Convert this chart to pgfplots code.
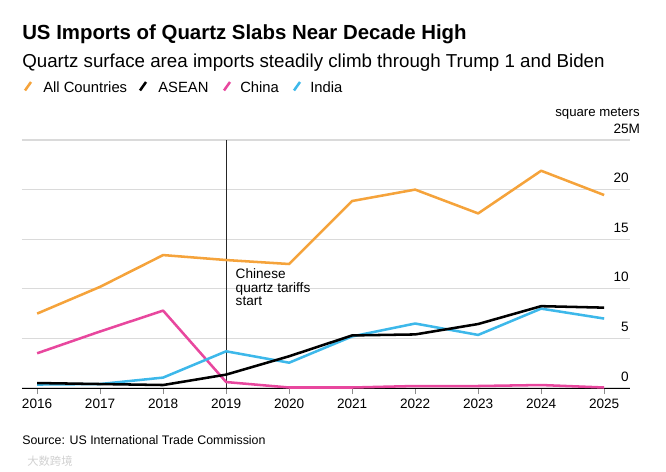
\documentclass[border=0pt]{standalone}
\usepackage{pgfplots}
\pgfplotsset{compat=1.18}
\usepackage{fontspec}
\setmainfont{Liberation Sans}
\newfontfamily\cjk{Noto Sans CJK SC}
\definecolor{corange}{HTML}{F5A33B}
\definecolor{cpink}{HTML}{E8479E}
\definecolor{ccyan}{HTML}{3DB8EA}
\definecolor{cgrid}{HTML}{DADADA}
\begin{document}
\begin{tikzpicture}[x=0.75pt,y=0.75pt]
\path[use as bounding box] (0,0) rectangle (666,471);
% titles
\node[anchor=base west, inner sep=0, font=\bfseries\fontsize{15.3}{18}\selectfont] at (22,431) {US Imports of Quartz Slabs Near Decade High};
\node[anchor=base west, inner sep=0, font=\fontsize{14.05}{17}\selectfont] at (22,403.5) {Quartz surface area imports steadily climb through Trump 1 and Biden};
% legend
\begin{scope}[line width=1.9pt, line cap=butt]
\draw[corange] (25,380.5) -- (31,389);
\draw[black] (140,380.5) -- (146,389);
\draw[cpink] (224,380.5) -- (230,389);
\draw[ccyan] (294,380.5) -- (300,389);
\end{scope}
\begin{scope}[every node/.style={anchor=base west, inner sep=0, font=\fontsize{11.1}{13}\selectfont}]
\node at (43,378.5) {All Countries};
\node at (158,378.5) {ASEAN};
\node at (240,378.5) {China};
\node at (310,378.5) {India};
\end{scope}
\node[anchor=base east, inner sep=0, font=\fontsize{9.9}{12}\selectfont] at (640,354.5) {square meters};
% source
\node[anchor=base west, inner sep=0, font=\fontsize{9.3}{11}\selectfont] at (22,26.5) {Source: US International Trade Commission};
\node[anchor=west, inner sep=0, text=black!18, font=\cjk\fontsize{8.5}{10}\selectfont] at (27,10) {大数跨境};

\begin{axis}[
  at={(16.5pt,62.25pt)}, anchor=south west,
  scale only axis, width=456pt, height=186pt,
  xmin=2015.76, xmax=2025.41, ymin=0, ymax=25,
  axis x line*=bottom, axis y line*=right,
  x axis line style={black, line width=0.75pt, -},
  y axis line style={draw=none},
  ytick={0,5,10,15,20,25},
  yticklabels={0,5,10,15,20,25\rlap{M}},
  ymajorgrids, grid style={cgrid, line width=0.8pt},
  ytick style={draw=none},
  yticklabel style={anchor=base east, inner sep=0pt, xshift=-5.25pt, yshift=5.25pt, font=\fontsize{10.2}{12}\selectfont},
  xtick={2016,2017,2018,2019,2020,2021,2022,2023,2024,2025},
  xticklabels={2016,2017,2018,2019,2020,2021,2022,2023,2024,2025},
  xtick style={black!45, line width=0.6pt},
  tick align=outside, major tick length=4.5pt,
  xticklabel style={font=\fontsize{10.2}{12}\selectfont, inner sep=0pt, yshift=-3.5pt},
  clip=false,
  every axis plot/.append style={line width=1.9pt, line join=round, no markers},
]
\draw[black!85, line width=0.75pt] (axis cs:2019,0) -- (axis cs:2019,25);
\node[anchor=north west, align=left, inner sep=0pt, xshift=7pt, font=\fontsize{10.2}{10.2}\selectfont] at (axis cs:2019,12.05) {Chinese\\quartz tariffs\\start};
\addplot[corange] coordinates {(2016,7.5) (2017,10.2) (2018,13.4) (2019,12.9) (2020,12.5) (2021,18.85) (2022,20.0) (2023,17.6) (2024,21.9) (2025,19.45)};
\addplot[cpink] coordinates {(2016,3.5) (2017,5.7) (2018,7.8) (2019,0.6) (2020,0.05) (2021,0.05) (2022,0.2) (2023,0.2) (2024,0.3) (2025,0.05)};
\addplot[ccyan] coordinates {(2016,0.35) (2017,0.4) (2018,1.05) (2019,3.7) (2020,2.55) (2021,5.2) (2022,6.5) (2023,5.35) (2024,8.0) (2025,7.0)};
\addplot[black] coordinates {(2016,0.5) (2017,0.4) (2018,0.3) (2019,1.35) (2020,3.2) (2021,5.3) (2022,5.4) (2023,6.45) (2024,8.25) (2025,8.1)};
\end{axis}
\end{tikzpicture}
\end{document}
